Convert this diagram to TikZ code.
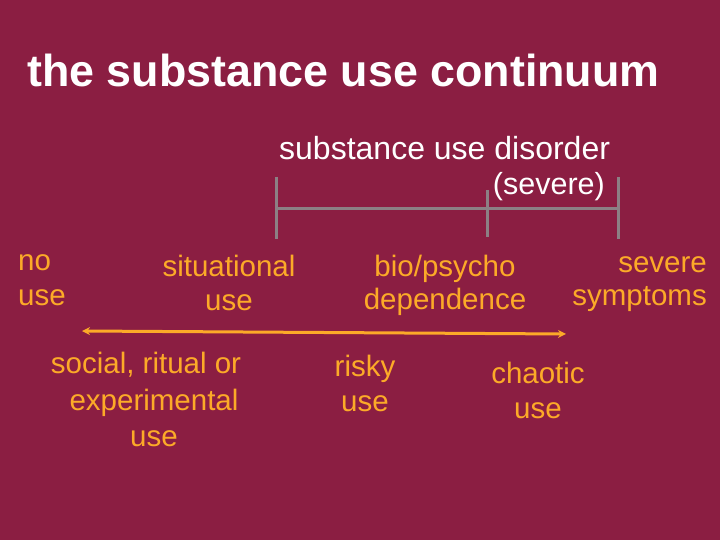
\documentclass[tikz,border=0pt]{standalone}
\usepackage{fontspec}
\setmainfont{Liberation Sans}
\usetikzlibrary{arrows.meta}
\definecolor{bg}{RGB}{139,30,66}
\definecolor{orng}{RGB}{252,170,40}
\definecolor{brk}{RGB}{140,128,132}
\begin{document}
\begin{tikzpicture}[x=1pt,y=-1pt,
  lbl/.style={inner sep=0pt,text=orng,font=\fontsize{29.5}{36}\selectfont},
  wlbl/.style={inner sep=0pt,text=white,font=\fontsize{30.5}{36}\selectfont},
  bracket/.style={draw=brk,line width=3pt},
  flow/.style={draw=orng,line width=3pt,{Stealth[length=8pt,width=8pt]}-{Stealth[length=8pt,width=8pt]}}]
\fill[bg] (0,0) rectangle (720,540);
\useasboundingbox (0,0) rectangle (720,540);
% title
\node[inner sep=0pt,text=white,anchor=base west,font=\bfseries\fontsize{44.8}{50}\selectfont] (title) at (27,87) {the substance use continuum};
% header
\node[wlbl,anchor=base west,font=\fontsize{32}{36}\selectfont] (sud) at (279,160) {substance use disorder};
\node[wlbl,anchor=base east] (sev) at (605,195) {(severe)};
% bracket
\coordinate (bl1) at (276,177); \coordinate (bl2) at (276,239);
\coordinate (br1) at (618,177); \coordinate (br2) at (618,239);
\coordinate (bm1) at (487,190); \coordinate (bm2) at (487,237);
\coordinate (hl) at (276,209); \coordinate (hr) at (618,209);
\draw[bracket] (bl1) -- (bl2);
\draw[bracket] (br1) -- (br2);
\draw[bracket] (bm1) -- (bm2);
\draw[bracket] (hl) -- (hr);
% labels above arrow
\node[lbl,anchor=base west] (no1) at (18,270) {no};
\node[lbl,anchor=base west] (no2) at (18,305) {use};
\node[lbl,anchor=base] (sit1) at (229,276) {situational};
\node[lbl,anchor=base] (sit2) at (229,310) {use};
\node[lbl,anchor=base] (bio1) at (445,276) {bio/psycho};
\node[lbl,anchor=base] (bio2) at (445,309) {dependence};
\node[lbl,anchor=base east] (sym1) at (707,272) {severe};
\node[lbl,anchor=base east] (sym2) at (707,305) {symptoms};
% arrow
\coordinate (al) at (82,331);
\coordinate (ar) at (566,334);
\draw[flow] (al) -- (ar);
% labels below arrow
\node[lbl,anchor=base] (soc1) at (146,373) {social, ritual or};
\node[lbl,anchor=base] (soc2) at (154,410) {experimental};
\node[lbl,anchor=base] (soc3) at (154,446) {use};
\node[lbl,anchor=base] (risk1) at (365,376) {risky};
\node[lbl,anchor=base] (risk2) at (365,411) {use};
\node[lbl,anchor=base] (cha1) at (538,383) {chaotic};
\node[lbl,anchor=base] (cha2) at (538,418) {use};
\end{tikzpicture}
\end{document}
